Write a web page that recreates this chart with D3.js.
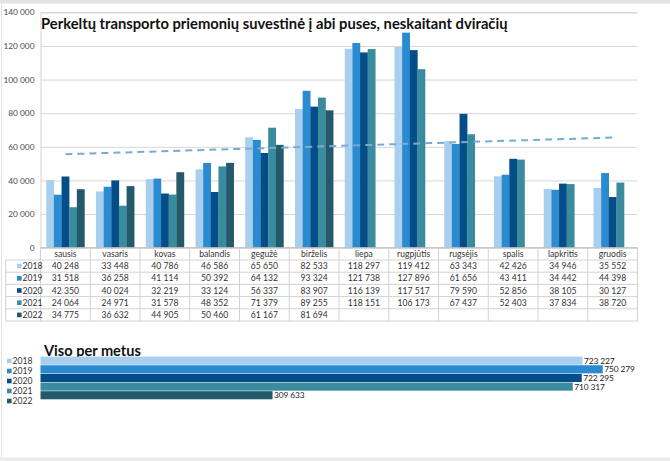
<!DOCTYPE html>
<html><head><meta charset="utf-8">
<script src="https://cdn.jsdelivr.net/npm/d3@7"></script>
<style>
html,body{margin:0;padding:0;background:#fff;}
svg{display:block;font-family:Lato,"Open Sans",sans-serif;}
</style></head>
<body><svg id="c" width="670" height="461"></svg>
<script>
const months = ["sausis","vasaris","kovas","balandis","gegužė","birželis","liepa","rugpjūtis","rugsėjis","spalis","lapkritis","gruodis"];
const years = ["2018","2019","2020","2021","2022"];
const v2018 = [40248,33448,40786,46586,65650,82533,118297,119412,63343,42426,34946,35552];
const v2019 = [31518,36258,41114,50392,64132,93324,121738,127896,61656,43411,34442,44398];
const v2020 = [42350,40024,32219,33124,56337,83907,116139,117517,79590,52856,38105,30127];
const v2021 = [24064,24971,31578,48352,71379,89255,118151,106173,67437,52403,37834,38720];
const v2022 = [34775,36632,44905,50460,61167,81694,null,null,null,null,null,null];
const totals = [723227,750279,722295,710317,309633];
const trendMonths = ["sausis","gruodis"];
const trendValues = [55600,65500];
const yTicks = [0,20000,40000,60000,80000,100000,120000,140000];
const title1 = "Perkeltų transporto priemonių suvestinė į abi puses, neskaitant dviračių";
const title2 = "Viso per metus";

const series = [v2018,v2019,v2020,v2021,v2022];
const colors = ["#a8d0ee","#2b8bd0","#054d89","#3b8b9f","#23596b"];
const color = d3.scaleOrdinal(years, colors);
const loc = d3.formatLocale({decimal:",",thousands:" ",grouping:[3],currency:["","€"]});
const fmt = loc.format(",d");

const svg = d3.select("#c");
svg.append("rect").attr("x",0).attr("y",0).attr("width",670).attr("height",461).attr("fill","#fff");
svg.append("rect").attr("x",0).attr("y",0).attr("width",670).attr("height",3.5).attr("fill","#e3e3e3");
svg.append("rect").attr("x",0).attr("y",457.5).attr("width",670).attr("height",3.5).attr("fill","#ececec");
svg.append("line").attr("x1",1.5).attr("x2",1.5).attr("y1",3).attr("y2",458).attr("stroke","#e2e2e2");

const pL = 40.5, pR = 637.5, pT = 12.3, pB = 247.7;
const x0 = d3.scaleBand(months, [pL, pR]).padding(0);
const x1 = d3.scaleBand(years, [0, x0.bandwidth()]).paddingInner(0).paddingOuter(0.75);
const y = d3.scaleLinear([0,140000],[pB, pT]);

const yAxis = d3.axisLeft(y).tickValues(yTicks).tickFormat(fmt).tickSize(-(pR-pL)).tickPadding(6);
const ga = svg.append("g").attr("transform",`translate(${pL},0)`).call(yAxis);
ga.select(".domain").attr("stroke","#d4d4d4");
ga.selectAll(".tick line").attr("stroke","#d6d6d6");
ga.selectAll(".tick text").attr("fill","#4a4a4a").attr("font-size",8.3).attr("font-family","Lato,sans-serif");

const rows = [];
months.forEach((m,i)=>years.forEach((yr,j)=>{ if(series[j][i]!=null) rows.push({m,yr,v:series[j][i]}); }));
svg.append("g").selectAll("rect").data(rows).join("rect")
  .attr("x",d=>x0(d.m)+x1(d.yr)).attr("width",x1.bandwidth()+0.2)
  .attr("y",d=>y(d.v)).attr("height",d=>pB-y(d.v))
  .attr("fill",d=>color(d.yr));

const line = d3.line().x(d=>x0(d[0])+x0.bandwidth()/2).y(d=>y(d[1]));
svg.append("path").datum(trendMonths.map((m,i)=>[m,trendValues[i]]))
  .attr("d",line).attr("fill","none").attr("stroke","#78abd0").attr("stroke-width",2).attr("stroke-dasharray","7,5");

svg.append("line").attr("x1",pL).attr("x2",pR).attr("y1",pB).attr("y2",pB).attr("stroke","#bfbfbf");

const t1 = svg.append("text").attr("x",41).attr("y",29).attr("font-weight",700).attr("font-size",15)
  .attr("fill","#111").attr("font-family","Lato,sans-serif").text(title1);
{ const L = t1.node().getComputedTextLength(); t1.attr("font-size",15*467/L); }

const tTop = pB, hdr = 12.3, rowH = 12.2, tLeft = 5.7;
const rowY = d3.scaleBand(years, [tTop+hdr, tTop+hdr+rowH*5]).padding(0);
const tb = svg.append("g");
const gridC = "#d2d2d2";
tb.selectAll("line.h").data(years).join("line").attr("class","h")
  .attr("x1",tLeft).attr("x2",pR).attr("y1",d=>rowY(d)).attr("y2",d=>rowY(d)).attr("stroke",gridC);
tb.append("line").attr("x1",tLeft).attr("x2",pR).attr("y1",tTop+hdr+rowH*5).attr("y2",tTop+hdr+rowH*5).attr("stroke",gridC);
const vx = months.map(m=>x0(m)).concat([pR]);
tb.selectAll("line.v").data(vx).join("line").attr("class","v")
  .attr("x1",d=>d).attr("x2",d=>d).attr("y1",tTop).attr("y2",tTop+hdr+rowH*5).attr("stroke",gridC);
tb.append("line").attr("x1",tLeft).attr("x2",tLeft).attr("y1",tTop+hdr).attr("y2",tTop+hdr+rowH*5).attr("stroke",gridC);
tb.selectAll("text.m").data(months).join("text").attr("class","m")
  .attr("x",d=>x0(d)+x0.bandwidth()/2).attr("y",tTop+hdr/2).attr("dy","0.35em")
  .attr("text-anchor","middle").attr("font-size",8.6).attr("fill","#333").text(d=>d);
const lg = tb.selectAll("g.lg").data(years).join("g").attr("class","lg")
  .attr("transform",d=>`translate(0,${rowY(d)+rowH/2})`);
lg.append("rect").attr("x",17).attr("y",-2.3).attr("width",4.6).attr("height",4.6).attr("fill",d=>color(d));
lg.append("text").attr("x",22.5).attr("dy","0.35em").attr("font-size",8.6).attr("fill","#333").text(d=>d);
const cells = [];
years.forEach((yr,j)=>months.forEach((m,i)=>{ if(series[j][i]!=null) cells.push({yr,m,v:series[j][i]}); }));
tb.selectAll("text.v").data(cells).join("text").attr("class","v")
  .attr("x",d=>x0(d.m)+x0.bandwidth()/2).attr("y",d=>rowY(d.yr)+rowH/2).attr("dy","0.35em")
  .attr("text-anchor","middle").attr("font-size",8.6).attr("fill","#333").text(d=>fmt(d.v));

const t2 = svg.append("text").attr("x",44).attr("y",355.5).attr("font-weight",700).attr("font-size",16)
  .attr("fill","#111").attr("font-family","Lato,sans-serif").text(title2);
{ const L = t2.node().getComputedTextLength(); t2.attr("font-size",16*97/L); }

const bx = d3.scaleLinear([0,800000],[40.5,640]);
const by = d3.scaleBand(years,[356.6,399.3]).paddingInner(0.06);
const bg = svg.append("g");
bg.selectAll("rect").data(years).join("rect")
  .attr("x",bx(0)).attr("y",d=>by(d)).attr("height",by.bandwidth())
  .attr("width",(d,i)=>bx(totals[i])-bx(0)).attr("fill",d=>color(d));
bg.selectAll("text").data(years).join("text")
  .attr("x",(d,i)=>bx(totals[i])+1.5).attr("y",d=>by(d)+by.bandwidth()/2).attr("dy","0.36em")
  .attr("font-size",8.4).attr("fill","#222").attr("letter-spacing",-0.1).text((d,i)=>fmt(totals[i]));
const ly = d3.scalePoint(years,[361,401]);
const lg2 = svg.append("g").selectAll("g").data(years).join("g").attr("transform",d=>`translate(0,${ly(d)})`);
lg2.append("rect").attr("x",7).attr("y",-2.3).attr("width",4.6).attr("height",4.6).attr("fill",d=>color(d));
lg2.append("text").attr("x",12.5).attr("dy","0.35em").attr("font-size",8.6).attr("fill","#333").text(d=>d);
</script></body></html>
